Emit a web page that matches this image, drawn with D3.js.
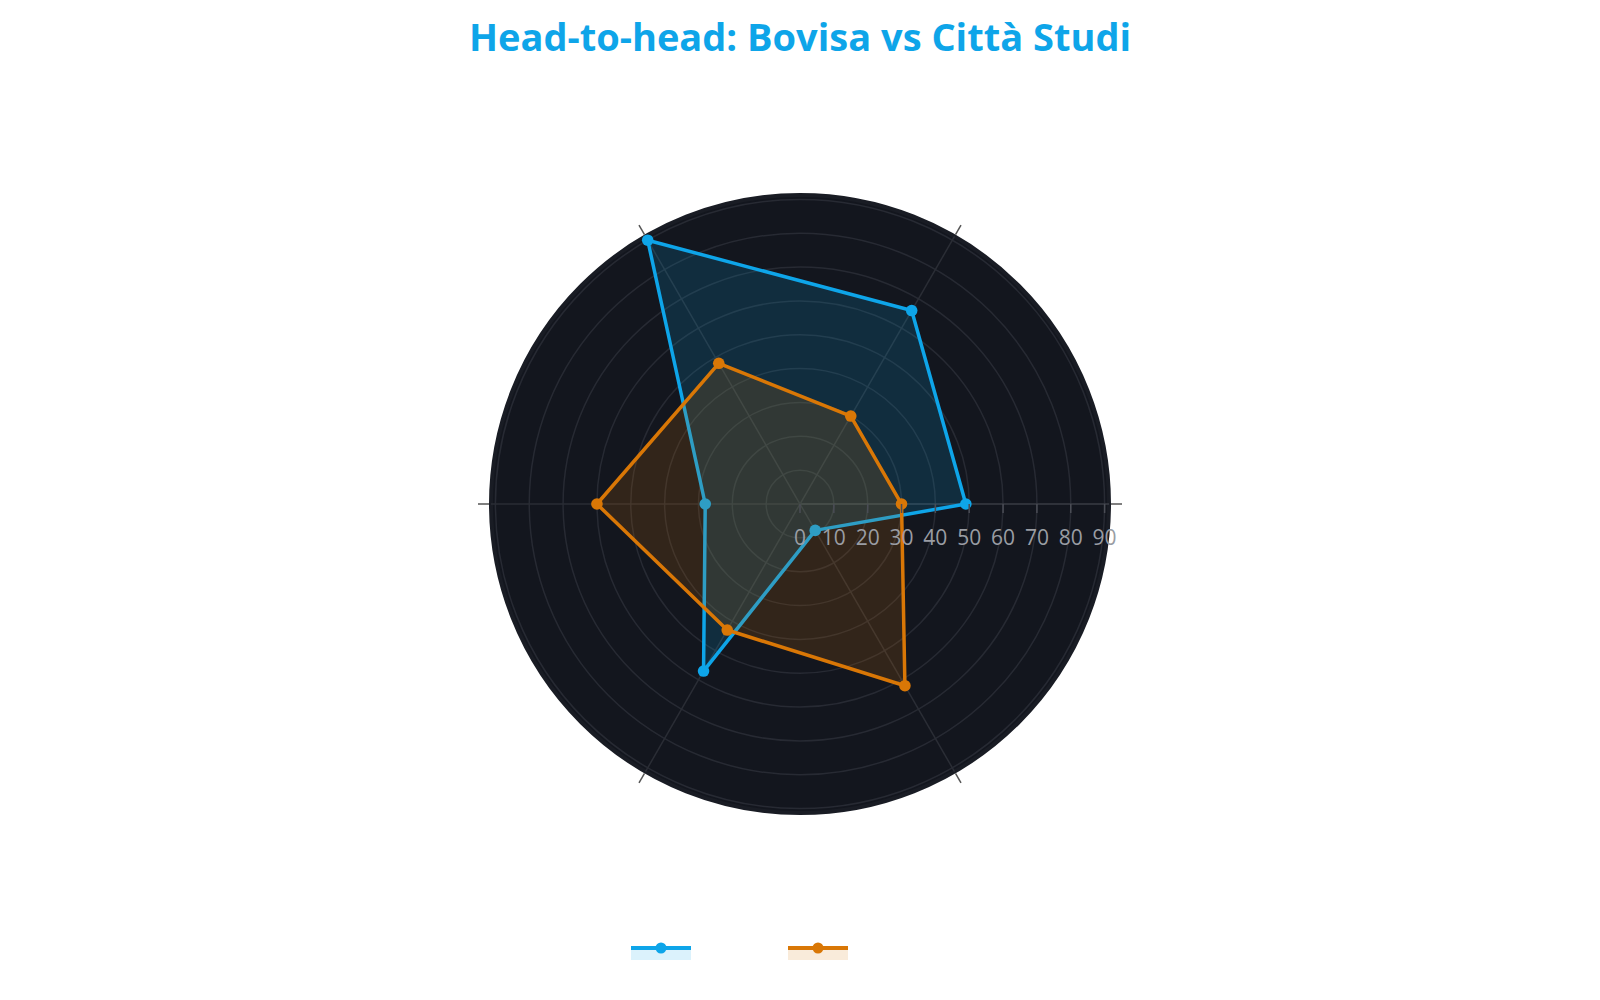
<!DOCTYPE html>
<html>
<head>
<meta charset="utf-8">
<script src="https://cdn.jsdelivr.net/npm/d3@7"></script>
<style>
  body { margin: 0; background: #fff; }
  svg { display: block; font-family: "Open Sans", "Noto Sans", sans-serif; }
</style>
</head>
<body>
<svg id="chart"></svg>
<script>
var width = 1600;
var height = 1000;

// six spokes, counter-clockwise from east
var categories = ["c1", "c2", "c3", "c4", "c5", "c6"];
var seriesNames = ["Bovisa", "Città Studi"];
var bovisa = [49, 66, 90, 28, 57, 9];
var cittaStudi = [30, 30, 48, 60, 43, 62];
var radialTicks = [0, 10, 20, 30, 40, 50, 60, 70, 80, 90];
var colors = ["#0ea5e9", "#d97706"];

var cx = 800, cy = 504;
var discRadius = 309;

var rScale = d3.scaleLinear()
                .domain([0, 90])
                .range([0, 304.6]);

// d3 radial angles: 0 at 12 o'clock, clockwise
var angle = d3.scaleLinear()
                .domain([0, categories.length])
                .range([Math.PI / 2, Math.PI / 2 - 2 * Math.PI]);

var svg = d3.select("#chart")
            .attr("width", width)
            .attr("height", height);

svg.append("text")
    .attr("x", width / 2)
    .attr("y", 51)
    .attr("text-anchor", "middle")
    .attr("font-size", 38)
    .attr("font-weight", 700)
    .attr("fill", "#0ea5e9")
    .text("Head-to-head: Bovisa vs Città Studi");

var g = svg.append("g")
            .attr("transform", `translate(${cx},${cy})`);

g.append("circle")
    .attr("r", discRadius)
    .attr("fill", "#13161e")
    .attr("stroke", "#191c24")
    .attr("stroke-width", 4);

// grid rings
g.selectAll(".ring")
    .data(radialTicks.slice(1))
    .enter()
    .append("circle")
      .attr("r", d => rScale(d))
      .attr("fill", "none")
      .attr("stroke", "#272a33")
      .attr("stroke-width", 1.5);

// spokes and outer ticks
var xy = (i, r) => [r * Math.sin(angle(i)), -r * Math.cos(angle(i))];

g.selectAll(".spoke")
    .data(categories)
    .enter()
    .append("line")
      .attr("x1", 0).attr("y1", 0)
      .attr("x2", (d, i) => xy(i, discRadius)[0])
      .attr("y2", (d, i) => xy(i, discRadius)[1])
      .attr("stroke", (d, i) => i === 0 ? "#3a3d45" : "#2a2d35")
      .attr("stroke-width", 1.5);

g.selectAll(".otick")
    .data(categories)
    .enter()
    .append("line")
      .attr("x1", (d, i) => xy(i, 311)[0])
      .attr("y1", (d, i) => xy(i, 311)[1])
      .attr("x2", (d, i) => xy(i, 322)[0])
      .attr("y2", (d, i) => xy(i, 322)[1])
      .attr("stroke", "#555")
      .attr("stroke-width", 1.5);

// series
var series = [bovisa, cittaStudi];
var radial = d3.lineRadial()
                .angle((d, i) => angle(i))
                .radius(d => rScale(d))
                .curve(d3.curveLinearClosed);

series.forEach(function(values, s) {
    var sg = g.append("g");
    sg.append("path")
        .attr("d", radial(values))
        .attr("fill", colors[s])
        .attr("fill-opacity", 0.16)
        .attr("stroke", colors[s])
        .attr("stroke-width", 3.5)
        .attr("stroke-linejoin", "round");
    sg.selectAll("circle")
        .data(values)
        .enter()
        .append("circle")
          .attr("cx", (d, i) => xy(i, rScale(d))[0])
          .attr("cy", (d, i) => xy(i, rScale(d))[1])
          .attr("r", 5.8)
          .attr("fill", colors[s]);
});

// radial axis along east spoke
var rAxis = g.append("g");
rAxis.selectAll("line")
    .data(radialTicks)
    .enter()
    .append("line")
      .attr("x1", d => rScale(d)).attr("x2", d => rScale(d))
      .attr("y1", 0).attr("y2", 9)
      .attr("stroke", "#4a4d55")
      .attr("stroke-width", 1.5);
rAxis.selectAll("text")
    .data(radialTicks)
    .enter()
    .append("text")
      .attr("x", d => rScale(d))
      .attr("y", 41)
      .attr("text-anchor", "middle")
      .attr("font-size", 21)
      .attr("fill", "#9a9da4")
      .text(d => d);

// legend (labels are white on white in the reference)
var legend = svg.append("g")
                .attr("transform", "translate(631,948)");
var item = legend.selectAll(".item")
                .data(seriesNames)
                .enter()
                .append("g")
                  .attr("transform", (d, i) => `translate(${i * 157},0)`);
item.append("rect")
    .attr("x", 0).attr("y", 0)
    .attr("width", 60).attr("height", 12)
    .attr("fill", (d, i) => colors[i])
    .attr("fill-opacity", 0.15);
item.append("line")
    .attr("x1", 0).attr("x2", 60)
    .attr("y1", 0).attr("y2", 0)
    .attr("stroke", (d, i) => colors[i])
    .attr("stroke-width", 4);
item.append("circle")
    .attr("cx", 30).attr("cy", 0).attr("r", 5.5)
    .attr("fill", (d, i) => colors[i]);
item.append("text")
    .attr("x", 68).attr("y", 6)
    .attr("font-size", 16)
    .attr("fill", "#ffffff")
    .text(d => d);
</script>
</body>
</html>
